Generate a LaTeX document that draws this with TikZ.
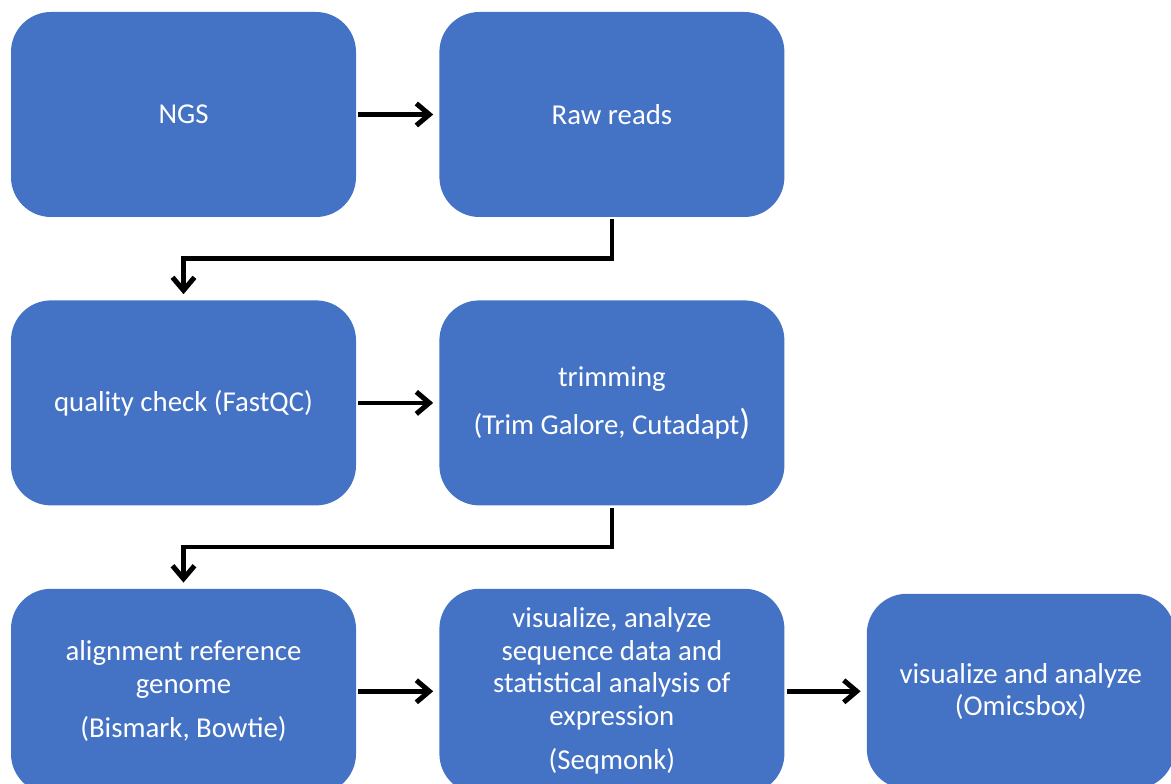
\documentclass[tikz,border=0pt]{standalone}
\usepackage{fontspec}
\setmainfont{Carlito}
\usetikzlibrary{arrows.meta,positioning}
\definecolor{boxblue}{HTML}{4472C4}
\tikzstyle{stage}=[fill=boxblue, text=white, rounded corners=40pt, minimum width=345pt, minimum height=205pt, align=center, inner sep=0pt]
\tikzstyle{flow}=[->, line width=4.5pt, shorten >=6pt, shorten <=2pt]

\begin{document}
\begin{tikzpicture}[x=1pt,y=1pt,node distance=83pt,>={Straight Barb[length=13pt,width=22pt,line width=5pt]},font=\fontsize{28.8}{32.5}\selectfont]
                        \clip (0,0) rectangle (1171,784);
                        \node [stage] (a) at (183.5,669.5) {NGS};
                        \node [stage] (b) [right=of a] {Raw reads};
                        \node [stage] (c) [below=of a] {quality check (FastQC)};
                        \node [stage] (d) [right=of c] {trimming\\[16pt] (Trim Galore, Cutadapt{\fontsize{36}{32.5}\selectfont )}};
                        \node [stage] (e) [below=of c] {alignment reference\\ genome\\[12pt] (Bismark, Bowtie)};
                        \node [stage] (f) [right=of e] {visualize, analyze\\ sequence data and\\ statistical analysis of\\ expression\\[12pt] (Seqmonk)};
                        \node [stage, minimum width=308pt, minimum height=195pt] (g) [right=82pt of f] {visualize and analyze\\ (Omicsbox)};
                        \path[flow]
                        (a) edge (b)
                        (c) edge (d)
                        (e) edge (f)
                        (f) edge (g);
                        \draw[flow] (b.south) -- ++(0,-41.5) -| (c.north);
                        \draw[flow] (d.south) -- ++(0,-41.5) -| (e.north);
                    \end{tikzpicture}
\end{document}
